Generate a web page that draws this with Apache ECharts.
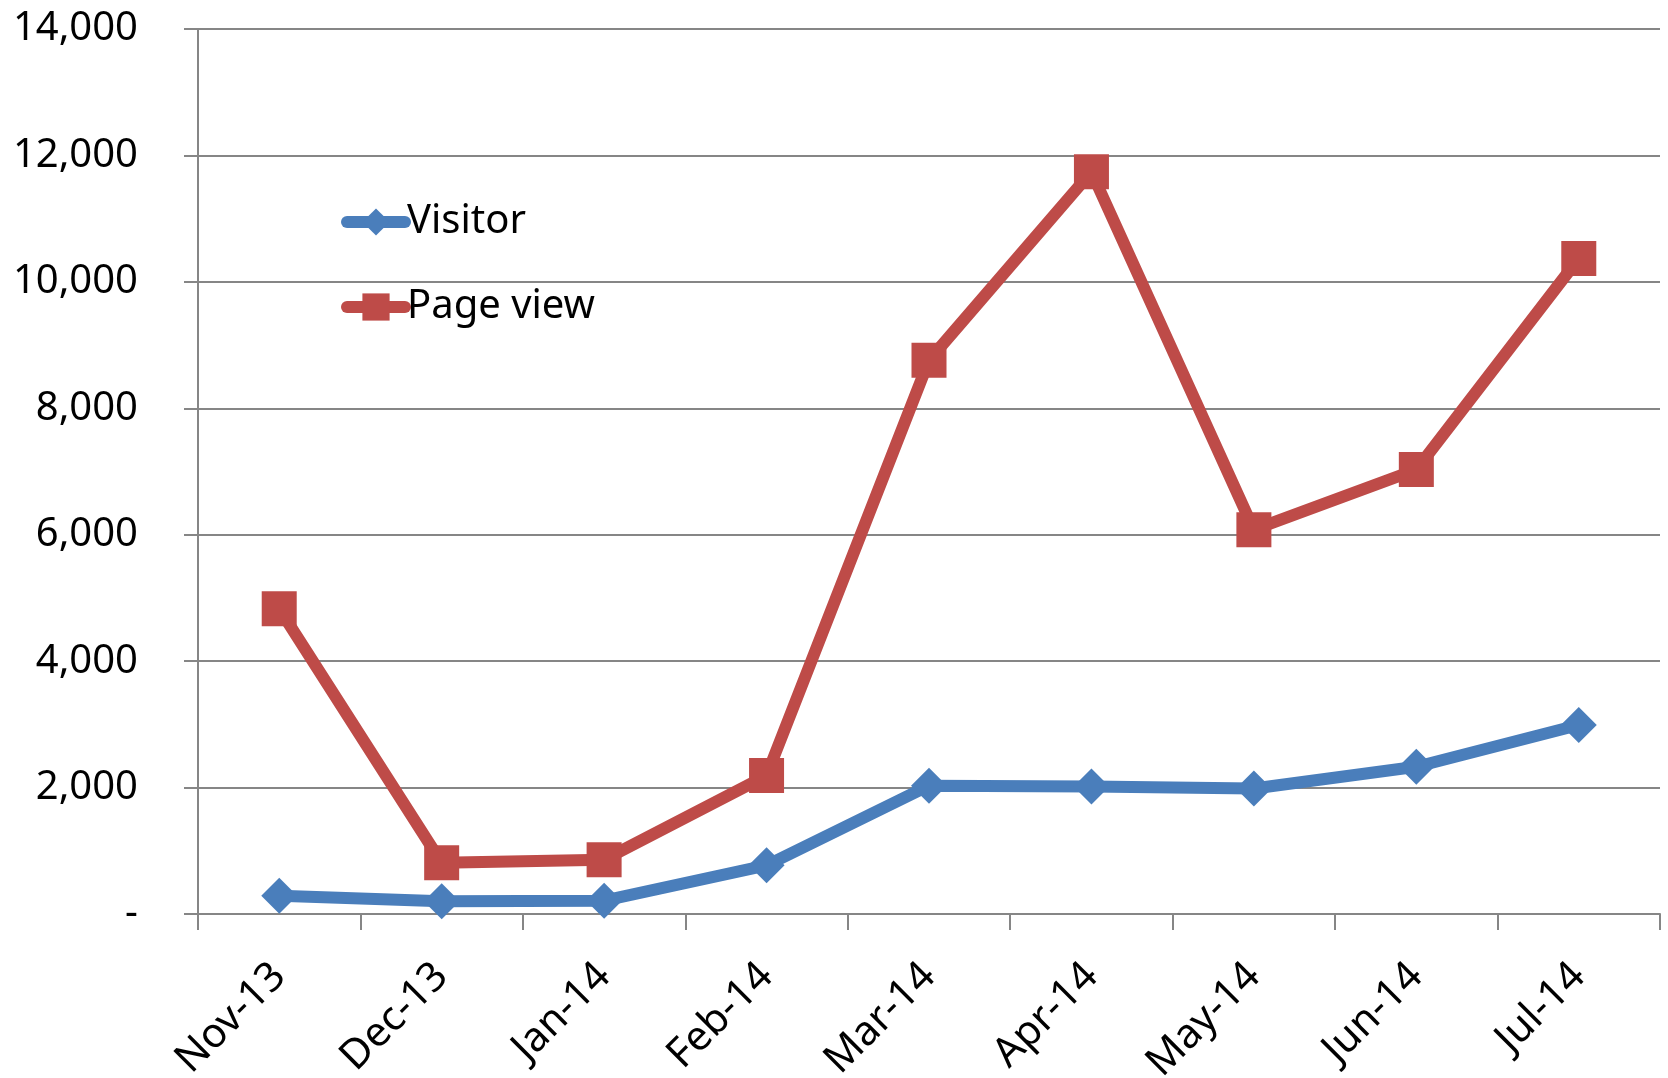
<!DOCTYPE html>
<html>
<head>
<meta charset="utf-8">
<script src="https://cdn.jsdelivr.net/npm/echarts@6/dist/echarts.min.js"></script>
<style>html,body{margin:0;padding:0;background:#fff}#c{width:1668px;height:1078px}</style>
</head>
<body>
<div id="c"></div>
<script>
var categories = ['Nov-13','Dec-13','Jan-14','Feb-14','Mar-14','Apr-14','May-14','Jun-14','Jul-14'];
var visitor = [290, 200, 210, 770, 2030, 2015, 1985, 2330, 2990];
var pageView = [4830, 810, 860, 2190, 8760, 11740, 6080, 7030, 10370];
var seriesNames = ['Visitor', 'Page view'];

var chart = echarts.init(document.getElementById('c'));
var font = '"Noto Sans", "DejaVu Sans", sans-serif';
chart.setOption({
  animation: false,
  grid: {left: 198, right: 8, top: 29, bottom: 164, containLabel: false, outerBoundsMode: 'none'},
  legend: {
    orient: 'vertical', left: 336, top: 197,
    itemWidth: 58, itemHeight: 34, itemGap: 45,
    lineStyle: {width: 12, cap: 'round'},
    textStyle: {fontFamily: font, fontSize: 40, color: '#000', padding: [0,0,0,-3]},
    data: seriesNames
  },
  xAxis: {
    type: 'category', data: categories, boundaryGap: true,
    axisLine: {lineStyle: {color: '#868686', width: 2}},
    axisTick: {show: true, length: 16, lineStyle: {color: '#868686', width: 2}},
    axisLabel: {rotate: 45, margin: 56, fontFamily: font, fontSize: 41, color: '#000'}
  },
  yAxis: {
    type: 'value', min: 0, max: 14000, interval: 2000,
    axisLine: {show: true, lineStyle: {color: '#868686', width: 2}},
    axisTick: {show: true, length: 14, lineStyle: {color: '#868686', width: 2}},
    splitLine: {lineStyle: {color: '#868686', width: 2}},
    axisLabel: {margin: 60, fontFamily: font, fontSize: 40, color: '#000',
      formatter: function(v){ return v === 0 ? '-' : v.toLocaleString('en-US'); }}
  },
  series: [
    {name: seriesNames[0], type: 'line', data: visitor, symbol: 'diamond', symbolSize: 36,
     itemStyle: {color: '#4A7EBB'}, lineStyle: {width: 12, color: '#4A7EBB', cap: 'round'}},
    {name: seriesNames[1], type: 'line', data: pageView, symbol: 'rect', symbolSize: 35,
     itemStyle: {color: '#BE4B48'}, lineStyle: {width: 12, color: '#BE4B48', cap: 'round'}}
  ]
});
</script>
</body>
</html>
